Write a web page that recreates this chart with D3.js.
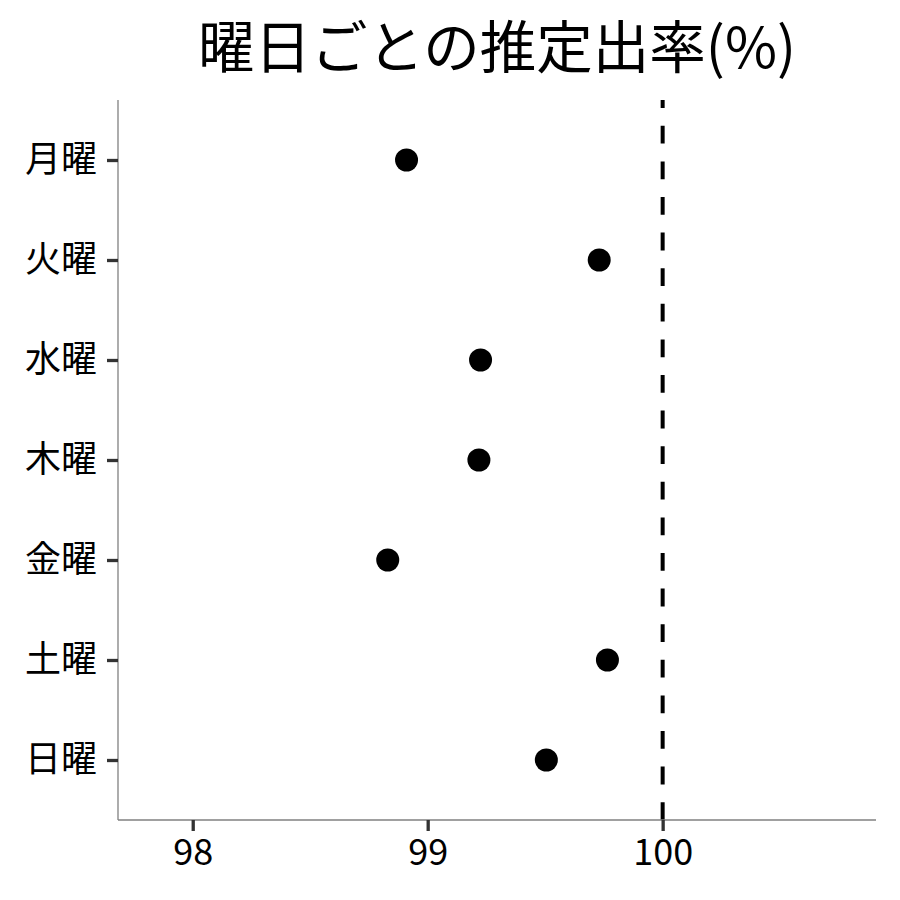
<!DOCTYPE html>
<html><head><meta charset="utf-8">
<script src="https://cdn.jsdelivr.net/npm/d3@7"></script>
<style>
html,body{margin:0;padding:0;background:#fff;}
svg{display:block;font-family:"Noto Sans CJK JP","Noto Sans",sans-serif;}
</style></head>
<body>
<svg id="chart" width="900" height="900"></svg>
<script>
const days = ["月曜","火曜","水曜","木曜","金曜","土曜","日曜"];
const rates = [98.91, 99.73, 99.225, 99.218, 98.83, 99.765, 99.505];
const xTicks = [98, 99, 100];
const refValue = 100;
const xDomain = [97.682, 100.908];
const title = "曜日ごとの推定出率(%)";

const svg = d3.select("#chart");
const m = {left:118, right:876, top:100, bottom:820};

const x = d3.scaleLinear().domain(xDomain).range([m.left, m.right]);
const y = d3.scalePoint().domain(days).range([m.top, m.bottom]).padding(0.6);

svg.append("rect").attr("width",900).attr("height",900).attr("fill","#fff");

// title
svg.append("text")
  .attr("x",(m.left+m.right)/2).attr("y",43)
  .attr("text-anchor","middle").attr("dominant-baseline","central")
  .attr("font-size",56.5).attr("fill","#000").text(title);

// reference line
svg.append("line")
  .attr("x1",x(refValue)).attr("x2",x(refValue))
  .attr("y1",m.bottom).attr("y2",m.top)
  .attr("stroke","#000").attr("stroke-width",4)
  .attr("stroke-dasharray","17.8,17.8");

// x axis
const xAxis = svg.append("g").attr("transform",`translate(0,${m.bottom})`)
  .call(d3.axisBottom(x).tickValues(xTicks).tickSize(11).tickPadding(8).tickFormat(d3.format("d")));
xAxis.select(".domain").attr("stroke","#808080").attr("stroke-width",1.3);
xAxis.selectAll(".tick line").attr("stroke","#333").attr("stroke-width",3.3);
xAxis.selectAll(".tick text").attr("font-size",36).attr("fill","#000")
  .attr("font-family",'"Noto Sans CJK JP","Noto Sans",sans-serif');

// y axis
const yAxis = svg.append("g").attr("transform",`translate(${m.left},0)`)
  .call(d3.axisLeft(y).tickSize(11).tickPadding(10));
yAxis.select(".domain").attr("stroke","#808080").attr("stroke-width",1.3);
yAxis.selectAll(".tick line").attr("stroke","#333").attr("stroke-width",3.3);
yAxis.selectAll(".tick text").attr("font-size",36).attr("fill","#000")
  .attr("font-family",'"Noto Sans CJK JP","Noto Sans",sans-serif');
yAxis.select(".domain").attr("d",`M0,${m.top}V${m.bottom}`);
xAxis.select(".domain").attr("d",`M${m.left},0H${m.right}`);

// points
svg.append("g").selectAll("circle").data(days.map((d,i)=>({d, v:rates[i]})))
  .join("circle")
  .attr("cx",p=>x(p.v)).attr("cy",p=>y(p.d)).attr("r",11.5).attr("fill","#000");
</script>
</body></html>
